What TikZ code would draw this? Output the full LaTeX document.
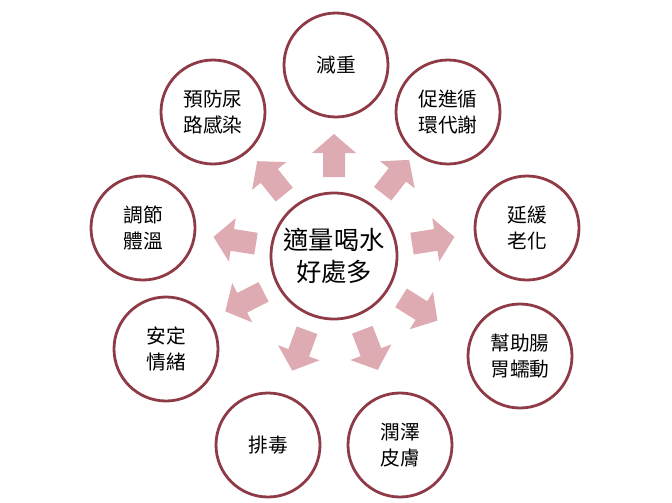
\documentclass[tikz,border=0pt]{standalone}
\usepackage{fontspec}
\setmainfont{Noto Sans CJK TC}
\usetikzlibrary{positioning}
\definecolor{ringred}{HTML}{8E3B47}
\definecolor{arrowpink}{HTML}{DDABB1}
\tikzset{%
	ben/.style = {circle, draw = ringred, line width = 1.4mm, fill = white, minimum size = 52mm, inner sep = 0pt, align = center, font = \fontsize{28}{37}\selectfont},
	hub/.style = {ben, minimum size = 63mm, font = \fontsize{36}{45}\selectfont},
	blockarrow/.style = {fill = arrowpink, draw = none}
}
\begin{document}
\begin{tikzpicture}[x=0.5mm,y=-0.5mm]
			\useasboundingbox (0,0) rectangle (672,502);
			\coordinate (C) at (334,256);
			% arrows pointing out of the hub
			\foreach \ang in {90,52,9,-32,-69,-110,-153,171,129}
				\fill [blockarrow, shift={(C)}, rotate=\ang, shift={(79,0)}]
					(0,-11) -- (24,-11) -- (24,-22) -- (43,0) -- (24,22) -- (24,11) -- (0,11) -- cycle;
			\node [hub] (hub) at (C) {適量喝水\\好處多};
			\node [ben] (weight) at (336,65) {減重};
			\node [ben] (meta) at (448,112) {促進循\\環代謝};
			\node [ben] (aging) at (527,228) {延緩\\老化};
			\node [ben] (gut) at (520,356) {幫助腸\\胃蠕動};
			\node [ben] (skin) at (400,445) {潤澤\\皮膚};
			\node [ben] (detox) at (268,445) {排毒};
			\node [ben] (mood) at (166,349) {安定\\情緒};
			\node [ben] (temp) at (143,228) {調節\\體溫};
			\node [ben] (uti) at (213,112) {預防尿\\路感染};
\end{tikzpicture}
\end{document}
